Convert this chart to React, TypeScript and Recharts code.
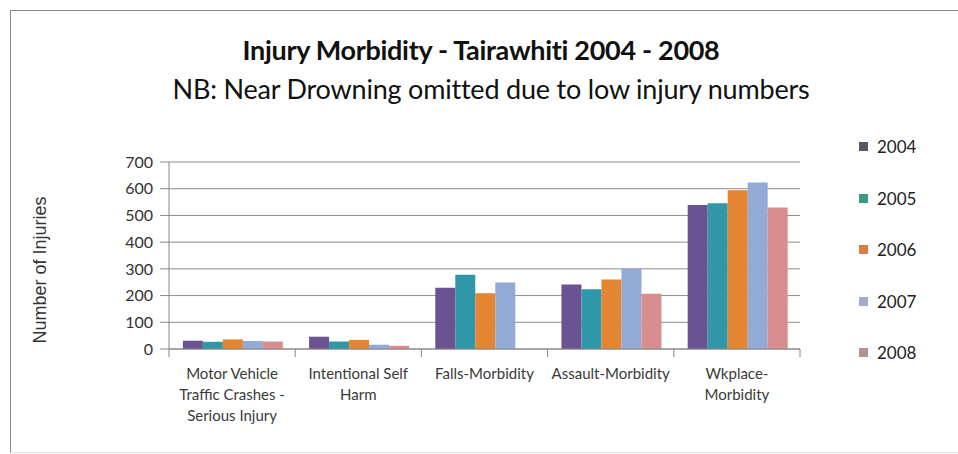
import { BarChart, Bar, XAxis, YAxis, CartesianGrid } from 'recharts';

const categories = [
  'Motor Vehicle\nTraffic Crashes -\nSerious Injury',
  'Intentional Self\nHarm',
  'Falls-Morbidity',
  'Assault-Morbidity',
  'Wkplace-\nMorbidity',
];
const years = ['2004', '2005', '2006', '2007', '2008'];
const v2004 = [31, 46, 229, 241, 539];
const v2005 = [27, 28, 278, 224, 546];
const v2006 = [36, 34, 209, 260, 594];
const v2007 = [30, 16, 249, 300, 623];
const v2008 = [28, 12, 0, 207, 530];
const yTicks = [0, 100, 200, 300, 400, 500, 600, 700];

const BAR_COLORS = ['#6b5293', '#2f97a7', '#e38531', '#93a9d6', '#d88d8f'];
const SWATCH_COLORS = ['#565868', '#3a9a86', '#e07b3e', '#a2abcc', '#b49294'];

const series = [v2004, v2005, v2006, v2007, v2008];
const data = categories.map((name, i) => {
  const row: any = { name };
  years.forEach((y, j) => { row[y] = series[j][i]; });
  return row;
});

const FONT = 'Lato, "Open Sans", sans-serif';

function CategoryTick(props: any) {
  const { x, y, payload, index, width } = props;
  const band = width / categories.length;
  const lines = String(payload.value).split('\n');
  const left = x - band / 2;
  return (
    <g>
      <line x1={left} x2={left} y1={y - 8} y2={y} stroke="#888" />
      {index === categories.length - 1 && (
        <line x1={left + band} x2={left + band} y1={y - 8} y2={y} stroke="#888" />
      )}
      <text x={x} y={y + 22} textAnchor="middle" fontSize={15} fill="#3a3a3a" fontFamily={FONT}>
        {lines.map((l, i) => (
          <tspan key={i} x={x} dy={i === 0 ? 0 : 21}>{l}</tspan>
        ))}
      </text>
    </g>
  );
}

export default function App() {
  return (
    <div style={{ position: 'absolute', left: 0, top: 0, width: 958, height: 454, background: '#fff', fontFamily: FONT }}>
      <div style={{ position: 'absolute', left: 10, top: 10, width: 960, height: 441, borderTop: '1px solid #8a8a8a', borderLeft: '1px solid #8a8a8a', borderBottom: '1px solid #e4e4e4' }} />
      <div style={{ position: 'absolute', left: 0, width: 962, top: 33, textAlign: 'center', fontSize: 27, fontWeight: 700, color: '#111', letterSpacing: -0.3 }}>
        Injury Morbidity - Tairawhiti 2004 - 2008
      </div>
      <div style={{ position: 'absolute', left: 0, width: 982, top: 72, textAlign: 'center', fontSize: 27, color: '#111', letterSpacing: -0.2 }}>
        NB: Near Drowning omitted due to low injury numbers
      </div>
      <div style={{ position: 'absolute', left: 40, top: 270, transform: 'translate(-50%, -50%) rotate(-90deg)', whiteSpace: 'nowrap', fontFamily: '"Liberation Sans", Arial, sans-serif', fontSize: 18, color: '#333' }}>
        Number of Injuries
      </div>
      <div style={{ position: 'absolute', left: 0, top: 0 }}>
        <BarChart width={958} height={454} data={data} margin={{ top: 162, right: 158, left: 109, bottom: 5 }} barCategoryGap="11%" barGap={0}>
          <CartesianGrid vertical={false} stroke="#8c8c8c" />
          <XAxis dataKey="name" interval={0} height={100} axisLine={{ stroke: '#888' }} tickLine={false} tick={<CategoryTick />} />
          <YAxis width={60} domain={[0, 700]} ticks={yTicks} interval={0} axisLine={{ stroke: '#888' }} tickLine={{ stroke: '#888' }} tickSize={9} tickMargin={7} tick={{ fontSize: 16, fill: '#333', fontFamily: FONT }} />
          {years.map((y, i) => (
            <Bar key={y} dataKey={y} fill={BAR_COLORS[i]} isAnimationActive={false} />
          ))}
        </BarChart>
      </div>
      {years.map((y, i) => (
        <div key={y} style={{ position: 'absolute', left: 859, top: 136 + i * 51.5, display: 'flex', alignItems: 'center', fontSize: 17, color: '#222' }}>
          <span style={{ display: 'inline-block', width: 9, height: 9, background: SWATCH_COLORS[i], marginRight: 9 }} />
          {y}
        </div>
      ))}
    </div>
  );
}
